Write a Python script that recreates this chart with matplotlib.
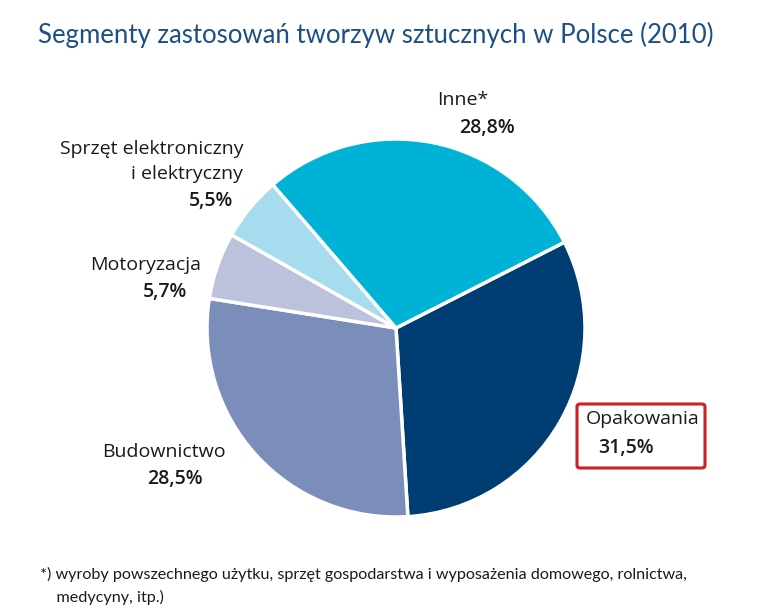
import matplotlib
matplotlib.use('Agg')
import matplotlib.pyplot as plt
from matplotlib.patches import FancyBboxPatch

# Data
categories = ['Opakowania', 'Budownictwo', 'Motoryzacja',
              'Sprzęt elektroniczny\ni elektryczny', 'Inne*']
shares = [31.5, 28.5, 5.7, 5.5, 28.8]
share_labels = ['31,5%', '28,5%', '5,7%', '5,5%', '28,8%']
colors = ['#003d73', '#7b8dba', '#bcc1dc', '#a6dcee', '#00b3d6']

title = 'Segmenty zastosowań tworzyw sztucznych w Polsce (2010)'
footnote = ('*) wyroby powszechnego użytku, sprzęt gospodarstwa i wyposażenia domowego, rolnictwa,\n'
            '    medycyny, itp.)')

W, H = 772, 610
narrow = 'Lato'
body = 'Open Sans'

fig = plt.figure(figsize=(W / 100, H / 100), dpi=100)
fig.patch.set_facecolor('white')
renderer = fig.canvas.get_renderer()


def px(x, y):
    # pixel coords (top-left origin) to figure fraction
    return x / W, 1 - y / H


def fit_width(t, target_px):
    # shrink/grow font so the text spans the same width as in the reference
    w = t.get_window_extent(renderer=renderer).width
    t.set_fontsize(t.get_fontsize() * target_px / w)


# pie axes: center (396, 328), radius 189 px
cx, cy, r = 396, 328, 189
ax = fig.add_axes([(cx - r) / W, (H - cy - r) / H, 2 * r / W, 2 * r / H])
ax.pie(shares, colors=colors, startangle=27, counterclock=False,
       wedgeprops=dict(edgecolor='white', linewidth=2.5))
ax.set_aspect('equal')
ax.set_xlim(-1, 1)
ax.set_ylim(-1, 1)
ax.axis('off')

tc = '#1a1a1a'

# Title
t = fig.text(*px(38, 35), title, fontsize=22, color='#1b4f86', family=narrow,
             ha='left', va='center')
fit_width(t, 674)

# Labels: (x, y, ha) for the name and for the percent
label_pos = [
    ((586, 419, 'left'), (598, 448, 'left')),
    ((102, 452, 'left'), (203, 479, 'right')),
    ((201, 265, 'right'), (187, 292, 'right')),
    ((243, 161, 'right'), (233, 201, 'right')),
    ((437, 100, 'left'), (459, 128, 'left')),
]
for name, pct, (npos, ppos) in zip(categories, share_labels, label_pos):
    fig.text(*px(npos[0], npos[1]), name, fontsize=14, color=tc,
             family=body, ha=npos[2], va='center', linespacing=1.5,
             multialignment='right')
    fig.text(*px(ppos[0], ppos[1]), pct, fontsize=14, color=tc,
             family=body, fontweight='semibold', ha=ppos[2], va='center')

# red frame around Opakowania
x0, y0 = px(577, 468)
x1, y1 = px(705, 404)
box = FancyBboxPatch((x0, y0), x1 - x0, y1 - y0, transform=fig.transFigure,
                     boxstyle='round,pad=0,rounding_size=0.004',
                     fill=False, edgecolor='#cc1f26', linewidth=2.2)
fig.patches.append(box)

# Footnote
f = fig.text(*px(40, 586), footnote, fontsize=12, color=tc, family=narrow,
             ha='left', va='center', linespacing=1.7)
fit_width(f, 646)

fig.savefig('out.png', dpi=100)
